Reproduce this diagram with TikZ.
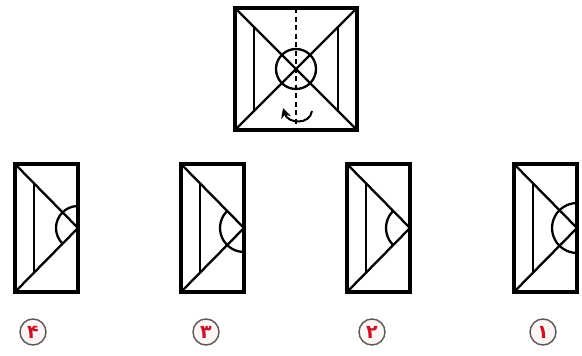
\documentclass[tikz,border=0pt]{standalone}
\usepackage{fontspec}
\newfontfamily\fadigits[Script=Arabic]{DejaVu Sans}
\usetikzlibrary{arrows.meta}
\definecolor{labelred}{RGB}{200,20,40}
\begin{document}
\begin{tikzpicture}[x=1pt, y=-1pt,
    frame/.style={line width=3.4pt, line join=miter},
    inner/.style={line width=2.3pt},
    badge/.style={circle, draw=black!65, line width=1.4pt, fill=red!4,
        minimum size=26pt, inner sep=0pt, text=labelred,
        font=\fadigits\bfseries\fontsize{19}{19}\selectfont}]
    \useasboundingbox (0,0) rectangle (582,356);
    % folded sheet on top
    \coordinate (TL) at (235,8);
    \coordinate (TR) at (357,8);
    \coordinate (BL) at (235,130);
    \coordinate (BR) at (357,130);
    \coordinate (O) at (296,69);
    \draw[inner] (TL) -- (BR);
    \draw[inner] (TR) -- (BL);
    \draw[inner] (254,27) -- (254,111);
    \draw[inner] (338,28) -- (338,110);
    \draw[inner] (O) circle (20pt);
    \draw[line width=1.6pt, dash pattern=on 5pt off 3.5pt] (296,8) -- (296,126);
    \draw[line width=2pt, -{Stealth[length=10pt, width=10pt]}]
        (312,111) .. controls (310,125) and (288,124) .. (283,108);
    \draw[frame] (TL) rectangle (BR);
    % the four choices
    \foreach \x/\lx/\a/\b/\r/\d in {15/33/90/225/22/۴, 181/206/135/270/24/۳,
                                   347/372/135/225/24/۲, 514/543/90/270/25/۱} {
        \coordinate (V) at (\x+63,228);
        \draw[inner] (\x,164) -- (V) -- (\x,292);
        \draw[inner] (\x+19,183) -- (\x+19,273);
        \draw[inner] (V) ++(\a:\r pt) arc[start angle=\a, end angle=\b, radius=\r pt];
        \draw[frame] (\x,164) rectangle (\x+63,292);
        \node[badge] (opt\d) at (\lx,332) {\d};
    }
\end{tikzpicture}
\end{document}
